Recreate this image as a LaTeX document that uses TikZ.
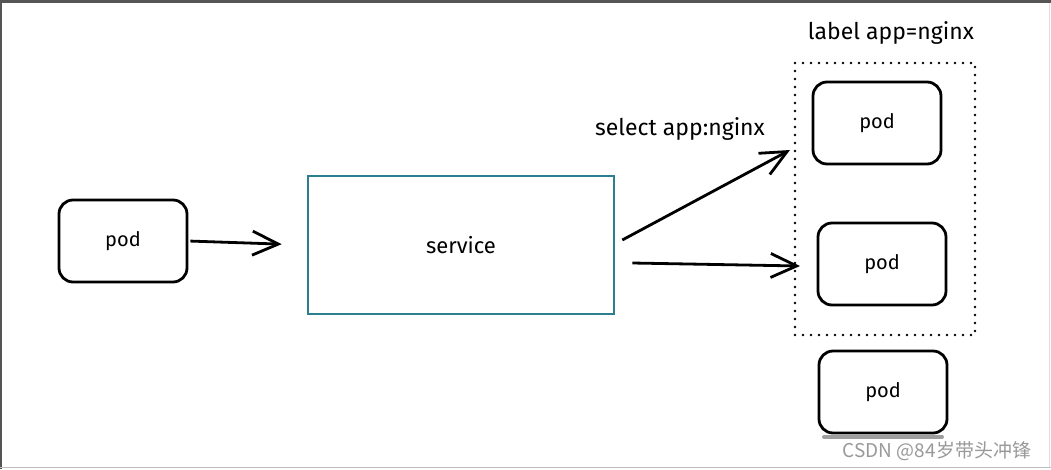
\documentclass[tikz,border=0pt]{standalone}
\usepackage{fontspec}
\setmainfont{Fira Sans}
\newfontfamily\cjkfont{Noto Sans CJK SC}
\usetikzlibrary{arrows.meta}
\definecolor{svcteal}{HTML}{2B7F8E}
\definecolor{framegray}{HTML}{555555}

\begin{document}
\begin{tikzpicture}[x=1pt,y=-1pt,>={Straight Barb[length=26pt,width=24pt]},
  podbox/.style={draw,line width=2.8pt,rounded corners=14pt,
    minimum width=128pt,minimum height=82pt,font=\fontsize{20}{24}\selectfont},
  svcbox/.style={draw=svcteal,line width=2.6pt,
    minimum width=306pt,minimum height=138pt,font=\fontsize{22}{26}\selectfont},
  tag/.style={font=\fontsize{23}{27}\selectfont},
  flow/.style={->,line width=2.8pt}]
  % Frame of the screenshot.
  \useasboundingbox (0,0) rectangle (1051,469);
  \fill[white] (0,0) rectangle (1051,469);
  \fill[framegray] (0,0) rectangle (1051,3);
  \fill[framegray] (0,0) rectangle (2,469);
  \draw[gray!50,line width=1pt] (0,467) -- (1051,467);
  \draw[gray!25,line width=1pt] (1049,3) -- (1049,467);
  % Nodes.
  \node[podbox] (src) at (123,241) {pod};
  \node[svcbox] (svc) at (461,245) {service};
  \draw[line width=2.8pt,line cap=round,dash pattern=on 0pt off 8pt]
    (795,63) rectangle (975,335);
  \node[podbox] (pa) at (877,123) {pod};
  \node[podbox] (pb) at (882,264) {pod};
  \node[podbox] (pc) at (883,392) {pod};
  \draw[gray!75,line width=4pt,line cap=round] (824,437) -- (942,437);
  % Labels.
  \node[tag] (grp) at (891,33) {label app=nginx};
  \node[tag] (sel) at (680,129) {select app:nginx};
  % Connectors.
  \coordinate (ta) at (790,150);
  \coordinate (tb) at (800,266);
  \draw[flow,shorten <=2pt,shorten >=25pt] (src.east) -- (svc.west);
  \draw[flow] ([xshift=7pt,yshift=5pt]svc.east) -- (ta);
  \draw[flow] ([xshift=17pt,yshift=-18pt]svc.east) -- (tb);
  % Watermark.
  \node[gray!80,font=\cjkfont\fontsize{19}{22}\selectfont] (mark) at (937,451) {CSDN @84岁带头冲锋};
\end{tikzpicture}
\end{document}
